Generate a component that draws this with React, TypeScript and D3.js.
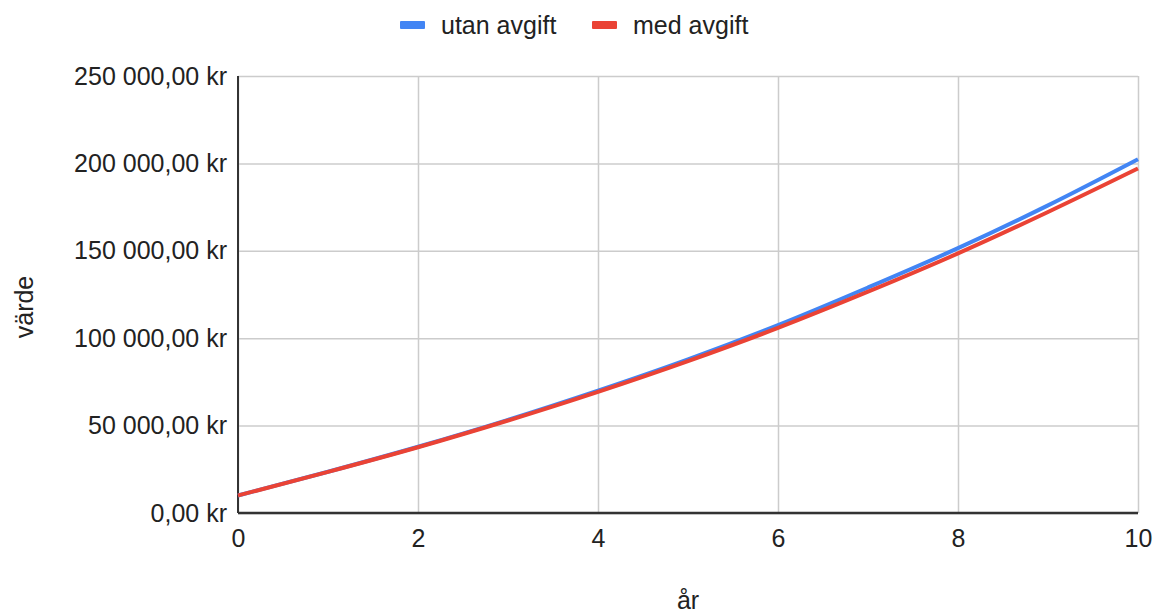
import React, { useEffect, useRef } from "react";
import * as d3 from "d3";

const years = [0, 1, 2, 3, 4, 5, 6, 7, 8, 9, 10];
const utanAvgift = [10000, 23600, 37900, 53300, 70000, 87900, 107500, 129000, 151500, 176000, 202400];
const medAvgift = [10000, 23500, 37600, 52900, 69300, 86900, 105900, 126600, 148500, 172200, 197100];
const seriesNames = ["utan avgift", "med avgift"];
const seriesColors = ["#4285f4", "#ea4335"];
const yTicks = [0, 50000, 100000, 150000, 200000, 250000];
const xTicks = [0, 2, 4, 6, 8, 10];

const sv = d3.formatLocale({
  decimal: ",",
  thousands: " ",
  grouping: [3],
  currency: ["", " kr"],
});
const fmt = sv.format("$,.2f");

export default function App() {
  const ref = useRef<SVGSVGElement>(null);

  useEffect(() => {
    const svg = d3.select(ref.current);
    svg.selectAll("*").remove();

    const margin = { top: 76, right: 23, bottom: 102, left: 238 };
    const W = 1161, H = 615;
    const w = W - margin.left - margin.right;
    const h = H - margin.top - margin.bottom;
    const font = "'Liberation Sans', Arial, sans-serif";

    const x = d3.scaleLinear().domain([0, 10]).range([0, w]);
    const y = d3.scaleLinear().domain([0, 250000]).range([h, 0]);

    const g = svg.append("g").attr("transform", `translate(${margin.left},${margin.top})`);

    // grid
    g.append("g")
      .call(d3.axisLeft(y).tickValues(yTicks).tickSize(-w).tickFormat(() => ""))
      .call(s => s.select(".domain").remove())
      .call(s => s.selectAll("line").attr("stroke", "#cccccc").attr("stroke-width", 1.5));
    g.append("g")
      .attr("transform", `translate(0,${h})`)
      .call(d3.axisBottom(x).tickValues(xTicks).tickSize(h).tickFormat(() => ""))
      .call(s => s.select(".domain").remove())
      .call(s => s.selectAll("line").attr("transform", `translate(0,${-h})`).attr("stroke", "#cccccc").attr("stroke-width", 1.5));

    // tick labels
    g.append("g")
      .call(d3.axisLeft(y).tickValues(yTicks).tickSize(0).tickPadding(11).tickFormat(d => fmt(d as number)))
      .call(s => s.select(".domain").remove())
      .call(s => s.selectAll("text").attr("font-family", font).attr("font-size", 25).attr("fill", "#222"));
    g.append("g")
      .attr("transform", `translate(0,${h})`)
      .call(d3.axisBottom(x).tickValues(xTicks).tickSize(0).tickPadding(16).tickFormat(d3.format("d")))
      .call(s => s.select(".domain").remove())
      .call(s => s.selectAll("text").attr("font-family", font).attr("font-size", 25).attr("fill", "#222"));

    // axis lines
    g.append("line").attr("x1", 0).attr("x2", 0).attr("y1", 0).attr("y2", h)
      .attr("stroke", "#333").attr("stroke-width", 2);
    g.append("line").attr("x1", 0).attr("x2", w).attr("y1", h).attr("y2", h)
      .attr("stroke", "#333").attr("stroke-width", 2.5);

    // lines
    const line = d3.line<number>()
      .x((d, i) => x(years[i]))
      .y(d => y(d))
      .curve(d3.curveMonotoneX);
    [utanAvgift, medAvgift].forEach((vals, i) => {
      g.append("path")
        .datum(vals)
        .attr("d", line)
        .attr("fill", "none")
        .attr("stroke", seriesColors[i])
        .attr("stroke-width", 4)
        .attr("stroke-linejoin", "round");
    });

    // axis titles
    svg.append("text")
      .attr("x", margin.left + w / 2).attr("y", 609)
      .attr("text-anchor", "middle")
      .attr("font-family", font).attr("font-size", 25).attr("fill", "#222")
      .text("år");
    svg.append("text")
      .attr("transform", `translate(33,307) rotate(-90)`)
      .attr("text-anchor", "middle")
      .attr("font-family", font).attr("font-size", 25).attr("fill", "#222")
      .text("värde");

    // legend
    const legendX = [400, 592];
    seriesNames.forEach((name, i) => {
      svg.append("rect")
        .attr("x", legendX[i]).attr("y", 21).attr("width", 25).attr("height", 8)
        .attr("rx", 1)
        .attr("fill", seriesColors[i]);
      svg.append("text")
        .attr("x", legendX[i] + 41).attr("y", 34)
        .attr("font-family", font).attr("font-size", 25).attr("fill", "#222")
        .text(name);
    });
  }, []);

  return (
    <svg ref={ref} width={1161} height={615}
      style={{ position: "absolute", left: 0, top: 0, background: "#fff" }} />
  );
}
